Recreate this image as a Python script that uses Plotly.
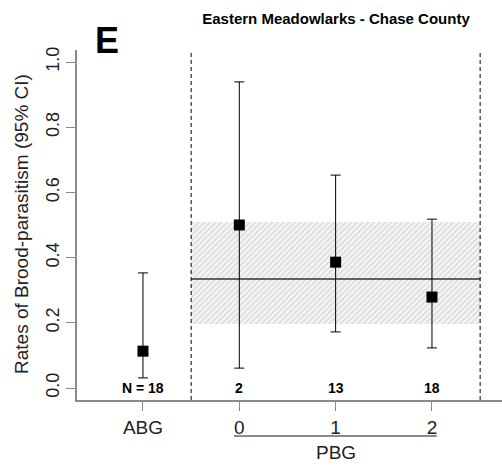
import plotly.graph_objects as go

# ---- data ----
groups = ["ABG", "0", "1", "2"]
group_pos = [0, 1, 2, 3]
rates = [0.113, 0.500, 0.386, 0.279]
ci_lower = [0.031, 0.061, 0.172, 0.123]
ci_upper = [0.353, 0.939, 0.653, 0.518]
n_labels = ["N = 18", "2", "13", "18"]
pbg_mean = 0.334
pbg_band = [0.196, 0.509]
pbg_span = [0.5, 3.5]

FONT = "Liberation Sans, Arial, Helvetica, sans-serif"
AXIS_GRAY = "#8a8a8a"

fig = go.Figure()

# hatched band (95% CI of PBG mean)
fig.add_trace(go.Scatter(
    x=[pbg_span[0], pbg_span[1], pbg_span[1], pbg_span[0], pbg_span[0]],
    y=[pbg_band[0], pbg_band[0], pbg_band[1], pbg_band[1], pbg_band[0]],
    mode="lines", line=dict(width=0), fill="toself",
    fillcolor="#f3f3f3",
    fillpattern=dict(shape="/", fgcolor="#d4d4d4", bgcolor="#f5f5f5",
                     size=4, solidity=0.3, fillmode="replace"),
    hoverinfo="skip", showlegend=False,
))

# mean line
fig.add_trace(go.Scatter(
    x=pbg_span, y=[pbg_mean, pbg_mean], mode="lines",
    line=dict(color="#333333", width=1.5), showlegend=False, hoverinfo="skip",
))

# points with error bars
fig.add_trace(go.Scatter(
    x=group_pos, y=rates, mode="markers",
    marker=dict(symbol="square", size=11, color="black"),
    error_y=dict(type="data", symmetric=False,
                 array=[u - r for u, r in zip(ci_upper, rates)],
                 arrayminus=[r - l for r, l in zip(rates, ci_lower)],
                 color="black", thickness=1, width=5),
    showlegend=False,
))

# dashed separators
for xv in pbg_span:
    fig.add_shape(type="line", x0=xv, x1=xv, y0=0, y1=1, xref="x", yref="paper",
                  line=dict(color="black", width=1, dash="4px,3px"))

# N labels
for xp, lab in zip(group_pos, n_labels):
    fig.add_annotation(x=xp, y=0, xref="x", yref="y", text="<b>%s</b>" % lab,
                       showarrow=False, font=dict(family=FONT, size=14, color="black"),
                       yanchor="middle")

# PBG underline and label
fig.add_shape(type="line", x0=0.945, x1=3.05, y0=-0.103, y1=-0.103, xref="x", yref="paper",
              line=dict(color=AXIS_GRAY, width=2))
fig.add_annotation(x=2, y=-0.151, xref="x", yref="paper", text="PBG", showarrow=False,
                   font=dict(family=FONT, size=19, color="#222"), yanchor="middle")

# panel letter
fig.add_annotation(x=(107 - 77) / 425, y=(400 - 40) / 350, xref="paper", yref="paper",
                   text="<b>E</b>", showarrow=False, xanchor="center", yanchor="middle",
                   font=dict(family=FONT, size=36, color="black"))

# y-axis title (rotated)
fig.add_annotation(x=(21 - 77) / 425, y=(400 - 224) / 350, xref="paper", yref="paper",
                   text="Rates of Brood-parasitism (95% CI)", textangle=-90,
                   showarrow=False, xanchor="center", yanchor="middle",
                   font=dict(family=FONT, size=19, color="#222"))

fig.update_layout(
    width=502, height=466,
    margin=dict(l=77, r=0, t=50, b=66),
    paper_bgcolor="white", plot_bgcolor="white",
    font=dict(family=FONT, color="#222"),
    title=dict(text="<b>Eastern Meadowlarks - Chase County</b>",
               x=336 / 502, xanchor="center", y=1 - 19 / 466, yanchor="middle",
               font=dict(family=FONT, size=15, color="black")),
    xaxis=dict(range=[-0.685, 3.727], tickvals=group_pos, ticktext=groups,
               showline=True, linecolor=AXIS_GRAY, linewidth=1.5,
               ticks="outside", ticklen=9, tickcolor=AXIS_GRAY, tickwidth=1,
               showgrid=False, zeroline=False,
               tickfont=dict(family=FONT, size=19, color="#222")),
    yaxis=dict(range=[-0.0368, 1.0368], tickvals=[0, 0.2, 0.4, 0.6, 0.8, 1.0],
               ticktext=["0.0", "0.2", "0.4", "0.6", "0.8", "1.0"],
               tickangle=-90,
               showline=True, linecolor=AXIS_GRAY, linewidth=1.5,
               ticks="outside", ticklen=9, tickcolor=AXIS_GRAY, tickwidth=1,
               showgrid=False, zeroline=False, ticklabelstandoff=0,
               tickfont=dict(family=FONT, size=18, color="#222")),
)

fig.write_html("out.html")
